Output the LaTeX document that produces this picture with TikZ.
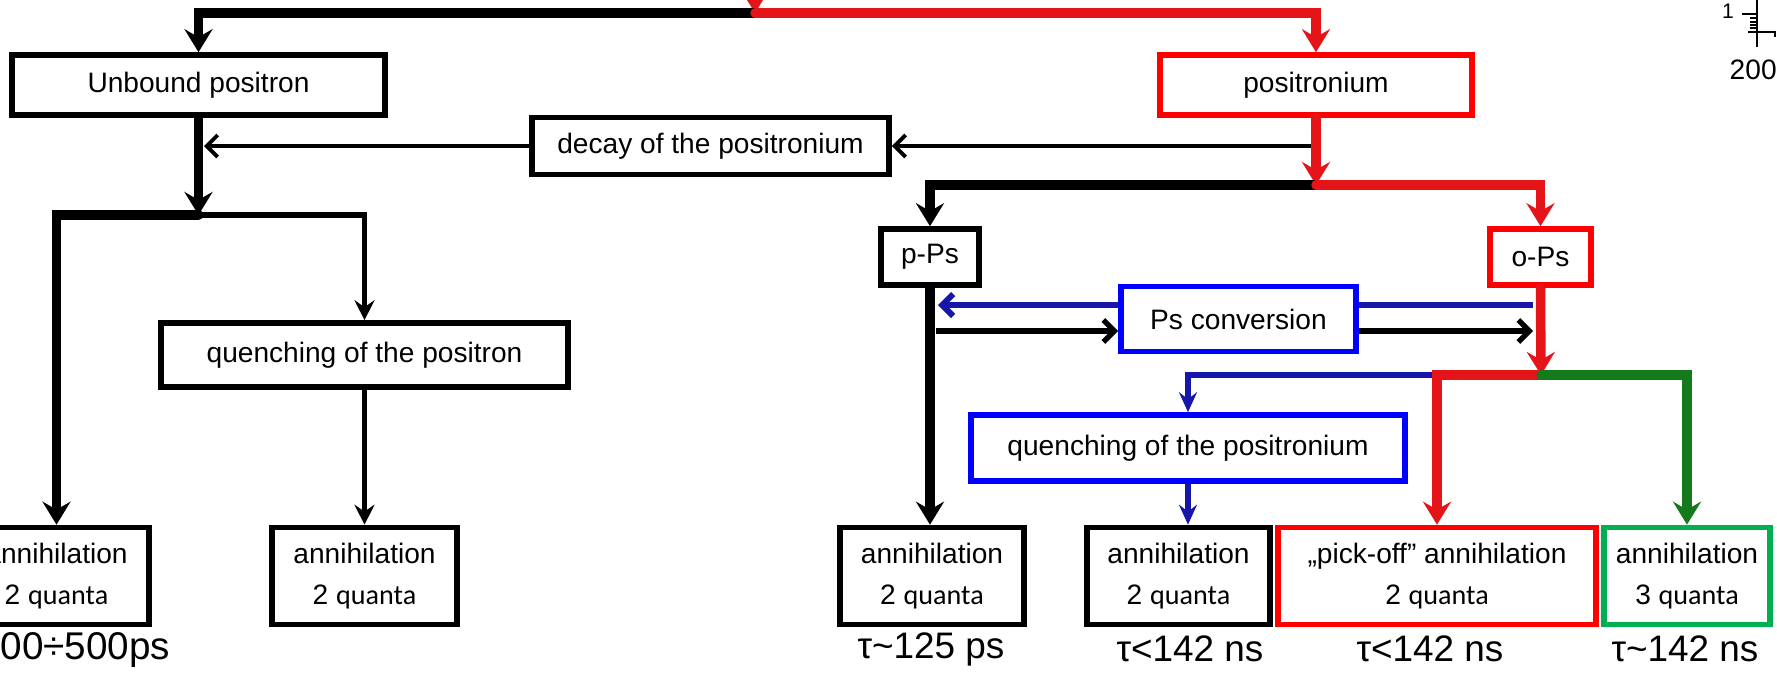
\documentclass[tikz,border=0pt]{standalone}
\usepackage{fontspec}
\setmainfont{Liberation Sans}
\newfontfamily\cali{Carlito}
\usetikzlibrary{positioning, arrows.meta}

\definecolor{lred}{RGB}{228,20,24}
\definecolor{bred}{RGB}{255,0,0}
\definecolor{lblue}{RGB}{22,22,170}
\definecolor{bblue}{RGB}{0,0,255}
\definecolor{lgreen}{RGB}{20,122,28}
\definecolor{bgreen}{RGB}{0,176,80}
\newcommand{\quanta}[1]{#1 {\cali quanta}}

\begin{document}
\begin{tikzpicture}[
    box/.style={
        draw, line width=1.6pt, inner sep=2pt,
        align=center, font=\fontsize{8}{11.7}\selectfont
    },
    fat/.style={line width=2.7pt, line cap=round},
    fatarr/.style={fat, -{Stealth[length=0.23cm, width=0.28cm, inset=0.08cm]}},
    mid/.style={line width=1.5pt},
    midarr/.style={mid, -{Stealth[length=0.2cm, width=0.2cm, inset=0.07cm]}},
    bluarr/.style={line width=1.7pt, lblue, -{Stealth[length=0.2cm, width=0.18cm, inset=0.07cm]}},
    barb/.style={-{Straight Barb[length=0.11cm, width=0.22cm]}},
    lbl/.style={font=\fontsize{10.5}{12}\selectfont, inner sep=0pt},
]
\useasboundingbox (0,0) rectangle (17.77,-6.72);
\clip (0,0) rectangle (17.77,-6.72);

% Top row: free positron and positronium
\node[box, minimum width=3.73cm, minimum height=0.6cm] (unbound) at (1.985,-0.85) {Unbound positron};
\node[box, bred, text=black, minimum width=3.12cm, minimum height=0.6cm] (posit) at (13.16,-0.85) {positronium};
\node[box, minimum width=3.57cm, minimum height=0.57cm] (decay) at (7.105,-1.46) {decay of the positronium};

% Positronium states and conversion
\node[box, minimum width=0.98cm, minimum height=0.56cm] (pps) at (9.30,-2.57) {p-Ps};
\node[box, bred, text=black, minimum width=1.01cm, minimum height=0.56cm] (ops) at (15.405,-2.57) {o-Ps};
\node[box, bblue, text=black, minimum width=2.35cm, minimum height=0.65cm] (conv) at (12.385,-3.19) {Ps conversion};

% Quenching
\node[box, minimum width=4.07cm, minimum height=0.64cm] (qpos) at (3.645,-3.55) {quenching of the positron};
\node[box, bblue, text=black, minimum width=4.34cm, minimum height=0.66cm] (qps) at (11.88,-4.48) {quenching of the positronium};

% Bottom row: annihilation channels
\node[box, minimum width=1.85cm, minimum height=0.97cm] (ann1) at (0.565,-5.76) {annihilation\\\quanta{2}};
\node[box, minimum width=1.85cm, minimum height=0.97cm] (ann2) at (3.645,-5.76) {annihilation\\\quanta{2}};
\node[box, minimum width=1.84cm, minimum height=0.97cm] (ann3) at (9.32,-5.76) {annihilation\\\quanta{2}};
\node[box, minimum width=1.83cm, minimum height=0.97cm] (ann4) at (11.785,-5.76) {annihilation\\\quanta{2}};
\node[box, bred, text=black, minimum width=3.18cm, minimum height=0.97cm] (ann5) at (14.37,-5.76) {„pick-off” annihilation\\\quanta{2}};
\node[box, bgreen, text=black, minimum width=1.66cm, minimum height=0.97cm] (ann6) at (16.87,-5.76) {annihilation\\\quanta{3}};

% Lifetimes
\node[lbl, anchor=west, font=\fontsize{11}{12}\selectfont] (life1) at (0,-6.50) {00÷500ps};
\node[lbl] (life3) at (9.31,-6.49) {τ\textasciitilde125 ps};
\node[lbl] (life4) at (11.90,-6.49) {τ<142 ns};
\node[lbl] (life5) at (14.30,-6.49) {τ<142 ns};
\node[lbl] (life6) at (16.85,-6.49) {τ\textasciitilde142 ns};

% Split points
\coordinate (src) at (7.55,0.30);
\coordinate (top) at (7.55,-0.13);
\coordinate (lsplit) at (1.985,-2.15);
\coordinate (rsplit) at (13.16,-1.85);
\coordinate (osplit) at (15.41,-3.75);
\coordinate (dr) at (13.12,-1.46);
\coordinate (dl) at (2.04,-1.46);
\coordinate (cvb) at (15.33,-3.05);
\coordinate (cvbl) at (9.38,-3.05);
\coordinate (cvk) at (9.36,-3.31);

% Incoming positron splits into free and bound
\draw[fatarr, lred] (src) -- (top);
\draw[fatarr] (top) -| (unbound.north);
\draw[fatarr, lred] (top) -| (posit.north);

% Decay of positronium back to free positron
\draw[line width=1.1pt, barb] (dr) -- (decay.east);
\draw[line width=1.1pt, barb] (decay.west) -- (dl);

% Free positron branch
\draw[fatarr] (unbound.south) -- (lsplit);
\draw[fatarr] (lsplit) -| (ann1.north);
\draw[midarr] (lsplit) -| (qpos.north);
\draw[midarr] (qpos.south) -- (ann2.north);

% Positronium branch
\draw[fatarr, lred] (posit.south) -- (rsplit);
\draw[fatarr] (rsplit) -| (pps.north);
\draw[fatarr, lred] (rsplit) -| (ops.north);
\draw[fatarr] (pps.south) -- (pps.south |- ann3.north);

% Ps conversion both ways
\draw[line width=1.7pt, lblue] (cvb) -- (conv.east |- cvb);
\draw[line width=1.7pt, lblue, barb] (conv.west |- cvb) -- (cvbl);
\draw[mid, barb] (cvk) -- (conv.west |- cvk);
\draw[mid, barb] (conv.east |- cvk) -- (cvb |- cvk);

% o-Ps channels
\draw[bluarr] (ann5.north |- osplit) -| (qps.north);
\draw[bluarr] (qps.south) -- (qps.south |- ann4.north);
\draw[fatarr, lred] (ops.south) -- (osplit);
\draw[fatarr, lred] (osplit) -| (ann5.north);
\draw[fatarr, lgreen] (osplit) -| (ann6.north);

% Cut-off axis in the corner
\node[font=\fontsize{6}{7}\selectfont, inner sep=0pt] (ytick) at (17.28,-0.11) {1};
\node[font=\fontsize{8}{9}\selectfont, inner sep=0pt] (xtick) at (17.61,-0.70) {2000};
\draw[line width=0.7pt] (17.57,0) -- (17.57,-0.47);
\draw[line width=0.7pt] (17.42,-0.14) -- (17.57,-0.14);
\foreach \y in {0.18,0.22,0.25,0.28}
    \draw[line width=0.5pt] (17.50,-\y) -- (17.57,-\y);
\draw[line width=0.7pt] (17.48,-0.32) -- (17.75,-0.32) -- (17.75,-0.37);

\end{tikzpicture}
\end{document}
